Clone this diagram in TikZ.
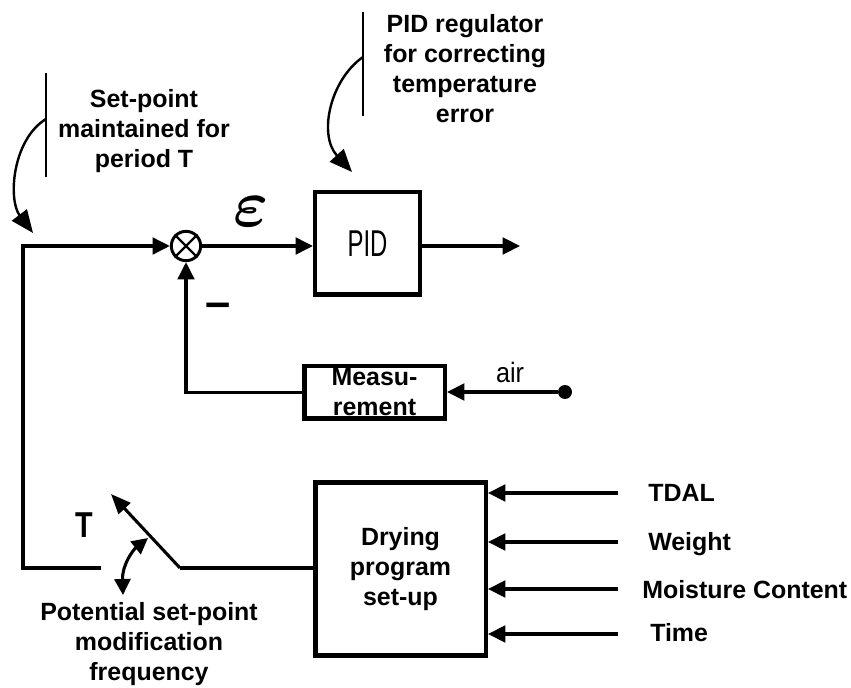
\documentclass[tikz,border=0pt]{standalone}
\usepackage{fontspec}
\usepackage{graphicx}
\usepackage{bm}
\setmainfont{Liberation Sans}
\usepackage{tikz}
\usetikzlibrary{arrows.meta}
\tikzset{
  blockbox/.style={draw,line width=3.4pt,inner sep=0pt,align=center},
  sumnode/.style={draw,circle,line width=2.2pt,minimum size=22pt,inner sep=0pt},
  notetext/.style={font=\fontsize{18.7}{22.5}\selectfont\bfseries,align=center,inner sep=0pt},
  inlabel/.style={font=\fontsize{18.7}{22.5}\selectfont\bfseries,anchor=base west,inner sep=0pt},
  conn/.style={line width=2.3pt},
  connarr/.style={conn,-{Triangle[length=13pt,width=12.5pt]}},
  notebar/.style={line width=1.8pt},
  notearr/.style={line width=1.8pt,-{Triangle[length=17pt,width=14pt]}},
  swarr/.style={line width=2.3pt,-{Triangle[length=15pt,width=12pt]}},
  freqarr/.style={line width=2.3pt,{Triangle[length=12pt,width=12pt]}-{Triangle[length=12pt,width=12pt]}}
}
\begin{document}
\begin{tikzpicture}[x=0.75pt,y=-0.75pt]
  \useasboundingbox (0,0) rectangle (851,688);

  % main loop
  \node[sumnode] (sum) at (186,246) {};
  \draw[line width=1.8pt] (sum.north west) -- (sum.south east)
                          (sum.north east) -- (sum.south west);
  \node[blockbox,minimum width=78.5pt,minimum height=76.9pt] (pid) at (367.5,243.5)
       {\fontsize{28}{28}\selectfont\scalebox{0.64}[1]{PID}};
  \node[blockbox,minimum width=105.4pt,minimum height=39.4pt,
        font=\fontsize{18.7}{22.5}\selectfont\bfseries] (meas) at (374.5,392.5) {Measu-\\rement};
  \node[blockbox,minimum width=127.9pt,minimum height=130.1pt,
        font=\fontsize{18.7}{22.5}\selectfont\bfseries] (dry) at (400.5,569) {Drying\\program\\set-up};
  \node[circle,fill,inner sep=0pt,minimum size=10.5pt] (airdot) at (565,392) {};

  \node[inner sep=0pt] (eps) at (251,212) {\scalebox{5}{$\bm{\varepsilon}$}};
  \node[inner sep=0pt,font=\fontsize{34}{34}\selectfont\bfseries] (minus) at (218,310) {--};
  \node[inner sep=0pt,font=\fontsize{21}{21}\selectfont] (air) at (510,372) {\scalebox{0.9}[1]{air}};
  \node[inner sep=0pt,font=\fontsize{27}{27}\selectfont\bfseries] (period) at (84,525) {\scalebox{0.8}[1]{T}};

  \coordinate (pidout) at (520,246);
  \coordinate (corner) at (23,568);
  \coordinate (swleft) at (101,568);
  \coordinate (swpivot) at (180,568);
  \coordinate (swtip) at (111,494);

  \draw[connarr] (sum.east) -- (sum.east -| pid.west);
  \draw[connarr] (pid.east |- pidout) -- (pidout);
  \draw[connarr] (meas.west) -| (sum.south);
  \draw[connarr] (airdot) -- (airdot -| meas.east);
  \draw[connarr] (swleft) -- (corner) |- (sum.west);
  \draw[conn] (dry.west |- swpivot) -- (swpivot);
  \draw[swarr] (swpivot) -- (swtip);

  % drying inputs
  \coordinate (in1) at (618,493);
  \coordinate (in2) at (618,542);
  \coordinate (in3) at (618,589);
  \coordinate (in4) at (618,634);
  \draw[connarr] (in1) -- (in1 -| dry.east);
  \draw[connarr] (in2) -- (in2 -| dry.east);
  \draw[connarr] (in3) -- (in3 -| dry.east);
  \draw[connarr] (in4) -- (in4 -| dry.east);
  \node[inlabel] (tdal) at (648,502) {TDAL};
  \node[inlabel] (weight) at (648,550) {Weight};
  \node[inlabel] (moist) at (642,598) {Moisture Content};
  \node[inlabel] (time) at (650,641) {Time};

  % annotations
  \node[notetext] (setnote) at (144,131) {Set-point\\maintained for\\period T};
  \coordinate (setbartop) at (46,73);
  \coordinate (setbarbot) at (46,177);
  \coordinate (setfrom) at (46,119);
  \coordinate (setto) at (33,233);
  \draw[notebar] (setbartop) -- (setbarbot);
  \draw[notearr] (setfrom) .. controls (12,140) and (8,200) .. (setto);

  \node[notetext] (pidnote) at (465,69) {PID regulator\\for correcting\\temperature\\error};
  \coordinate (pidbartop) at (363,12);
  \coordinate (pidbarbot) at (363,116);
  \coordinate (pidfrom) at (363,57);
  \coordinate (pidto) at (352,172);
  \draw[notebar] (pidbartop) -- (pidbarbot);
  \draw[notearr] (pidfrom) .. controls (330,80) and (318,135) .. (pidto);

  \node[notetext] (freqnote) at (149,644) {Potential set-point\\modification\\frequency};
  \coordinate (freqlow) at (123,595);
  \coordinate (freqhigh) at (148,538);
  \draw[freqarr] (freqlow) .. controls (122,565) and (133,550) .. (freqhigh);
\end{tikzpicture}
\end{document}
